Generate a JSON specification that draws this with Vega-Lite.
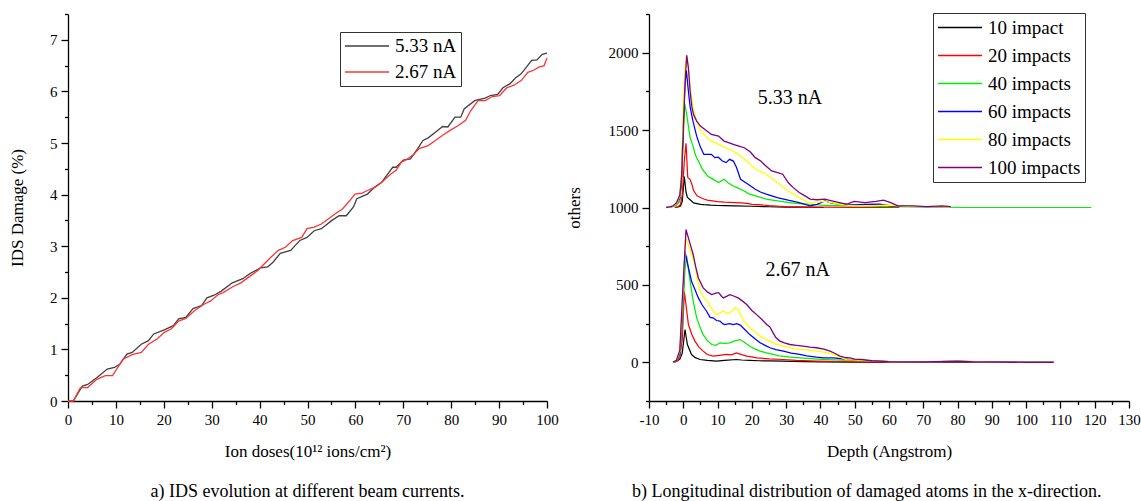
{
  "$schema": "https://vega.github.io/schema/vega-lite/v6.json",
  "background": "white",
  "padding": {"left": 8, "top": 7, "right": 0, "bottom": 0},
  "autosize": {"type": "pad"},
  "spacing": 6,
  "resolve": {"scale": {"color": "independent", "x": "independent", "y": "independent"}, "legend": {"color": "independent"}},
  "config": {
    "font": "Liberation Serif",
    "view": {"stroke": null},
    "axis": {
      "grid": false,
      "labelFont": "Liberation Serif",
      "labelFontSize": 15,
      "labelColor": "black",
      "titleFont": "Liberation Serif",
      "titleFontSize": 17,
      "titleFontWeight": "normal",
      "titleColor": "black",
      "domainColor": "black",
      "domainWidth": 1.3,
      "tickColor": "black",
      "tickWidth": 1.3,
      "labelPadding": 4,
      "labelOverlap": false,
      "labelFlush": false
    },
    "axisX": {"titlePadding": 16},
    "axisY": {"titlePadding": 23},
    "legend": {
      "labelFont": "Liberation Serif",
      "labelFontSize": 19,
      "labelColor": "black",
      "symbolType": "stroke",
      "symbolSize": 1936,
      "symbolStrokeWidth": 1.5,
      "strokeColor": "#333333",
      "padding": 4,
      "labelOffset": 5,
      "labelLimit": 300
    },
    "title": {"font": "Liberation Serif", "fontSize": 18, "fontWeight": "normal", "color": "black"}
  },
  "datasets": {
    "ids": [
      {"dose": 0, "damage": 0, "current": "5.33 nA"},
      {"dose": 1.1, "damage": 0, "current": "5.33 nA"},
      {"dose": 3, "damage": 0.29, "current": "5.33 nA"},
      {"dose": 4.1, "damage": 0.32, "current": "5.33 nA"},
      {"dose": 6, "damage": 0.45, "current": "5.33 nA"},
      {"dose": 8.2, "damage": 0.62, "current": "5.33 nA"},
      {"dose": 9.7, "damage": 0.65, "current": "5.33 nA"},
      {"dose": 10.8, "damage": 0.71, "current": "5.33 nA"},
      {"dose": 12.3, "damage": 0.91, "current": "5.33 nA"},
      {"dose": 13.4, "damage": 0.94, "current": "5.33 nA"},
      {"dose": 15.3, "damage": 1.10, "current": "5.33 nA"},
      {"dose": 16.8, "damage": 1.17, "current": "5.33 nA"},
      {"dose": 17.9, "damage": 1.30, "current": "5.33 nA"},
      {"dose": 20.1, "damage": 1.38, "current": "5.33 nA"},
      {"dose": 22, "damage": 1.46, "current": "5.33 nA"},
      {"dose": 23.1, "damage": 1.59, "current": "5.33 nA"},
      {"dose": 24.6, "damage": 1.62, "current": "5.33 nA"},
      {"dose": 26.1, "damage": 1.79, "current": "5.33 nA"},
      {"dose": 27.9, "damage": 1.85, "current": "5.33 nA"},
      {"dose": 29, "damage": 2.0, "current": "5.33 nA"},
      {"dose": 30.5, "damage": 2.05, "current": "5.33 nA"},
      {"dose": 32, "damage": 2.13, "current": "5.33 nA"},
      {"dose": 34.3, "damage": 2.29, "current": "5.33 nA"},
      {"dose": 36.5, "damage": 2.37, "current": "5.33 nA"},
      {"dose": 38, "damage": 2.47, "current": "5.33 nA"},
      {"dose": 40.2, "damage": 2.58, "current": "5.33 nA"},
      {"dose": 41.7, "damage": 2.6, "current": "5.33 nA"},
      {"dose": 42.8, "damage": 2.69, "current": "5.33 nA"},
      {"dose": 44.3, "damage": 2.86, "current": "5.33 nA"},
      {"dose": 45.4, "damage": 2.89, "current": "5.33 nA"},
      {"dose": 46.5, "damage": 2.92, "current": "5.33 nA"},
      {"dose": 47.5, "damage": 3.02, "current": "5.33 nA"},
      {"dose": 48.4, "damage": 3.11, "current": "5.33 nA"},
      {"dose": 49.9, "damage": 3.17, "current": "5.33 nA"},
      {"dose": 51.4, "damage": 3.30, "current": "5.33 nA"},
      {"dose": 52.9, "damage": 3.34, "current": "5.33 nA"},
      {"dose": 55.1, "damage": 3.50, "current": "5.33 nA"},
      {"dose": 56.6, "damage": 3.59, "current": "5.33 nA"},
      {"dose": 58.1, "damage": 3.59, "current": "5.33 nA"},
      {"dose": 59.6, "damage": 3.76, "current": "5.33 nA"},
      {"dose": 60.3, "damage": 3.92, "current": "5.33 nA"},
      {"dose": 62.5, "damage": 4.01, "current": "5.33 nA"},
      {"dose": 64, "damage": 4.14, "current": "5.33 nA"},
      {"dose": 65.5, "damage": 4.24, "current": "5.33 nA"},
      {"dose": 67, "damage": 4.43, "current": "5.33 nA"},
      {"dose": 67.8, "damage": 4.53, "current": "5.33 nA"},
      {"dose": 68.5, "damage": 4.53, "current": "5.33 nA"},
      {"dose": 70, "damage": 4.67, "current": "5.33 nA"},
      {"dose": 71.5, "damage": 4.69, "current": "5.33 nA"},
      {"dose": 73, "damage": 4.89, "current": "5.33 nA"},
      {"dose": 74.1, "damage": 5.05, "current": "5.33 nA"},
      {"dose": 75.2, "damage": 5.10, "current": "5.33 nA"},
      {"dose": 76.7, "damage": 5.21, "current": "5.33 nA"},
      {"dose": 78.2, "damage": 5.32, "current": "5.33 nA"},
      {"dose": 79.3, "damage": 5.31, "current": "5.33 nA"},
      {"dose": 80.8, "damage": 5.50, "current": "5.33 nA"},
      {"dose": 82, "damage": 5.50, "current": "5.33 nA"},
      {"dose": 82.7, "damage": 5.66, "current": "5.33 nA"},
      {"dose": 84.9, "damage": 5.82, "current": "5.33 nA"},
      {"dose": 87.1, "damage": 5.87, "current": "5.33 nA"},
      {"dose": 88.2, "damage": 5.92, "current": "5.33 nA"},
      {"dose": 89.7, "damage": 5.94, "current": "5.33 nA"},
      {"dose": 90.8, "damage": 6.07, "current": "5.33 nA"},
      {"dose": 92.3, "damage": 6.15, "current": "5.33 nA"},
      {"dose": 93.4, "damage": 6.26, "current": "5.33 nA"},
      {"dose": 94.6, "damage": 6.34, "current": "5.33 nA"},
      {"dose": 95.7, "damage": 6.47, "current": "5.33 nA"},
      {"dose": 96.8, "damage": 6.60, "current": "5.33 nA"},
      {"dose": 97.9, "damage": 6.61, "current": "5.33 nA"},
      {"dose": 99, "damage": 6.72, "current": "5.33 nA"},
      {"dose": 100, "damage": 6.74, "current": "5.33 nA"},
      {"dose": 0, "damage": 0, "current": "2.67 nA"},
      {"dose": 1.1, "damage": 0, "current": "2.67 nA"},
      {"dose": 2.6, "damage": 0.26, "current": "2.67 nA"},
      {"dose": 4.1, "damage": 0.26, "current": "2.67 nA"},
      {"dose": 6, "damage": 0.42, "current": "2.67 nA"},
      {"dose": 7.8, "damage": 0.49, "current": "2.67 nA"},
      {"dose": 9.3, "damage": 0.49, "current": "2.67 nA"},
      {"dose": 11.5, "damage": 0.81, "current": "2.67 nA"},
      {"dose": 13.4, "damage": 0.90, "current": "2.67 nA"},
      {"dose": 15.3, "damage": 0.94, "current": "2.67 nA"},
      {"dose": 16.8, "damage": 1.10, "current": "2.67 nA"},
      {"dose": 18.6, "damage": 1.20, "current": "2.67 nA"},
      {"dose": 20.1, "damage": 1.33, "current": "2.67 nA"},
      {"dose": 21.6, "damage": 1.40, "current": "2.67 nA"},
      {"dose": 23.1, "damage": 1.55, "current": "2.67 nA"},
      {"dose": 24.6, "damage": 1.60, "current": "2.67 nA"},
      {"dose": 26.4, "damage": 1.75, "current": "2.67 nA"},
      {"dose": 28.3, "damage": 1.87, "current": "2.67 nA"},
      {"dose": 29.8, "damage": 1.94, "current": "2.67 nA"},
      {"dose": 31.3, "damage": 2.06, "current": "2.67 nA"},
      {"dose": 32.4, "damage": 2.10, "current": "2.67 nA"},
      {"dose": 34.3, "damage": 2.21, "current": "2.67 nA"},
      {"dose": 36.1, "damage": 2.29, "current": "2.67 nA"},
      {"dose": 38, "damage": 2.42, "current": "2.67 nA"},
      {"dose": 39.5, "damage": 2.52, "current": "2.67 nA"},
      {"dose": 41, "damage": 2.66, "current": "2.67 nA"},
      {"dose": 42.4, "damage": 2.79, "current": "2.67 nA"},
      {"dose": 43.9, "damage": 2.92, "current": "2.67 nA"},
      {"dose": 45.4, "damage": 2.98, "current": "2.67 nA"},
      {"dose": 46.9, "damage": 3.11, "current": "2.67 nA"},
      {"dose": 48.8, "damage": 3.17, "current": "2.67 nA"},
      {"dose": 49.9, "damage": 3.34, "current": "2.67 nA"},
      {"dose": 51.4, "damage": 3.37, "current": "2.67 nA"},
      {"dose": 52.9, "damage": 3.43, "current": "2.67 nA"},
      {"dose": 54.4, "damage": 3.53, "current": "2.67 nA"},
      {"dose": 55.8, "damage": 3.63, "current": "2.67 nA"},
      {"dose": 57.3, "damage": 3.72, "current": "2.67 nA"},
      {"dose": 58.8, "damage": 3.88, "current": "2.67 nA"},
      {"dose": 59.9, "damage": 4.01, "current": "2.67 nA"},
      {"dose": 61.4, "damage": 4.03, "current": "2.67 nA"},
      {"dose": 62.5, "damage": 4.08, "current": "2.67 nA"},
      {"dose": 64, "damage": 4.14, "current": "2.67 nA"},
      {"dose": 65.5, "damage": 4.24, "current": "2.67 nA"},
      {"dose": 67.4, "damage": 4.40, "current": "2.67 nA"},
      {"dose": 68.5, "damage": 4.47, "current": "2.67 nA"},
      {"dose": 69.6, "damage": 4.63, "current": "2.67 nA"},
      {"dose": 70.7, "damage": 4.68, "current": "2.67 nA"},
      {"dose": 72.2, "damage": 4.78, "current": "2.67 nA"},
      {"dose": 73.3, "damage": 4.89, "current": "2.67 nA"},
      {"dose": 75.2, "damage": 4.95, "current": "2.67 nA"},
      {"dose": 76.7, "damage": 5.05, "current": "2.67 nA"},
      {"dose": 78.2, "damage": 5.15, "current": "2.67 nA"},
      {"dose": 79.7, "damage": 5.24, "current": "2.67 nA"},
      {"dose": 81.5, "damage": 5.34, "current": "2.67 nA"},
      {"dose": 83, "damage": 5.44, "current": "2.67 nA"},
      {"dose": 84.1, "damage": 5.63, "current": "2.67 nA"},
      {"dose": 85.6, "damage": 5.82, "current": "2.67 nA"},
      {"dose": 87.1, "damage": 5.82, "current": "2.67 nA"},
      {"dose": 88.6, "damage": 5.90, "current": "2.67 nA"},
      {"dose": 90.1, "damage": 5.92, "current": "2.67 nA"},
      {"dose": 91.6, "damage": 6.07, "current": "2.67 nA"},
      {"dose": 93.1, "damage": 6.12, "current": "2.67 nA"},
      {"dose": 94.6, "damage": 6.21, "current": "2.67 nA"},
      {"dose": 96, "damage": 6.37, "current": "2.67 nA"},
      {"dose": 97.2, "damage": 6.41, "current": "2.67 nA"},
      {"dose": 98.3, "damage": 6.47, "current": "2.67 nA"},
      {"dose": 99.4, "damage": 6.50, "current": "2.67 nA"},
      {"dose": 100, "damage": 6.65, "current": "2.67 nA"}
    ],
    "depth": [
      {"depth": -2.4, "count": 1000, "impacts": "10 impact", "current": "5.33"},
      {"depth": -1.5, "count": 1003, "impacts": "10 impact", "current": "5.33"},
      {"depth": -0.8, "count": 1010, "impacts": "10 impact", "current": "5.33"},
      {"depth": -0.3, "count": 1040, "impacts": "10 impact", "current": "5.33"},
      {"depth": 0, "count": 1120, "impacts": "10 impact", "current": "5.33"},
      {"depth": 0.3, "count": 1200, "impacts": "10 impact", "current": "5.33"},
      {"depth": 0.8, "count": 1100, "impacts": "10 impact", "current": "5.33"},
      {"depth": 1.2, "count": 1065, "impacts": "10 impact", "current": "5.33"},
      {"depth": 2, "count": 1050, "impacts": "10 impact", "current": "5.33"},
      {"depth": 3, "count": 1030, "impacts": "10 impact", "current": "5.33"},
      {"depth": 4, "count": 1025, "impacts": "10 impact", "current": "5.33"},
      {"depth": 5, "count": 1020, "impacts": "10 impact", "current": "5.33"},
      {"depth": 6, "count": 1018, "impacts": "10 impact", "current": "5.33"},
      {"depth": 8, "count": 1015, "impacts": "10 impact", "current": "5.33"},
      {"depth": 10, "count": 1013, "impacts": "10 impact", "current": "5.33"},
      {"depth": 12, "count": 1012, "impacts": "10 impact", "current": "5.33"},
      {"depth": 15, "count": 1010, "impacts": "10 impact", "current": "5.33"},
      {"depth": 20, "count": 1008, "impacts": "10 impact", "current": "5.33"},
      {"depth": 25, "count": 1005, "impacts": "10 impact", "current": "5.33"},
      {"depth": 30, "count": 1003, "impacts": "10 impact", "current": "5.33"},
      {"depth": 35, "count": 1002, "impacts": "10 impact", "current": "5.33"},
      {"depth": 41, "count": 1000, "impacts": "10 impact", "current": "5.33"},
      {"depth": -3, "count": 0, "impacts": "10 impact", "current": "2.67"},
      {"depth": -2, "count": 5, "impacts": "10 impact", "current": "2.67"},
      {"depth": -1, "count": 20, "impacts": "10 impact", "current": "2.67"},
      {"depth": -0.3, "count": 60, "impacts": "10 impact", "current": "2.67"},
      {"depth": 0.5, "count": 212, "impacts": "10 impact", "current": "2.67"},
      {"depth": 1.2, "count": 115, "impacts": "10 impact", "current": "2.67"},
      {"depth": 2.4, "count": 50, "impacts": "10 impact", "current": "2.67"},
      {"depth": 3.5, "count": 30, "impacts": "10 impact", "current": "2.67"},
      {"depth": 4.9, "count": 18, "impacts": "10 impact", "current": "2.67"},
      {"depth": 7, "count": 12, "impacts": "10 impact", "current": "2.67"},
      {"depth": 9.7, "count": 8, "impacts": "10 impact", "current": "2.67"},
      {"depth": 12, "count": 12, "impacts": "10 impact", "current": "2.67"},
      {"depth": 15.5, "count": 18, "impacts": "10 impact", "current": "2.67"},
      {"depth": 17, "count": 15, "impacts": "10 impact", "current": "2.67"},
      {"depth": 19.4, "count": 12, "impacts": "10 impact", "current": "2.67"},
      {"depth": 22, "count": 10, "impacts": "10 impact", "current": "2.67"},
      {"depth": 25, "count": 9, "impacts": "10 impact", "current": "2.67"},
      {"depth": 29.2, "count": 8, "impacts": "10 impact", "current": "2.67"},
      {"depth": 35, "count": 5, "impacts": "10 impact", "current": "2.67"},
      {"depth": 40, "count": 3, "impacts": "10 impact", "current": "2.67"},
      {"depth": 50, "count": 1, "impacts": "10 impact", "current": "2.67"},
      {"depth": 60, "count": 0, "impacts": "10 impact", "current": "2.67"},
      {"depth": 70, "count": 0, "impacts": "10 impact", "current": "2.67"},
      {"depth": 80, "count": 3, "impacts": "10 impact", "current": "2.67"},
      {"depth": 90, "count": 1, "impacts": "10 impact", "current": "2.67"},
      {"depth": 100, "count": 0, "impacts": "10 impact", "current": "2.67"},
      {"depth": 108, "count": 0, "impacts": "10 impact", "current": "2.67"},
      {"depth": -2.5, "count": 1000, "impacts": "20 impacts", "current": "5.33"},
      {"depth": -1.5, "count": 1005, "impacts": "20 impacts", "current": "5.33"},
      {"depth": -0.8, "count": 1020, "impacts": "20 impacts", "current": "5.33"},
      {"depth": -0.3, "count": 1080, "impacts": "20 impacts", "current": "5.33"},
      {"depth": 0.3, "count": 1300, "impacts": "20 impacts", "current": "5.33"},
      {"depth": 0.8, "count": 1415, "impacts": "20 impacts", "current": "5.33"},
      {"depth": 1.3, "count": 1195, "impacts": "20 impacts", "current": "5.33"},
      {"depth": 2, "count": 1180, "impacts": "20 impacts", "current": "5.33"},
      {"depth": 2.5, "count": 1150, "impacts": "20 impacts", "current": "5.33"},
      {"depth": 3, "count": 1110, "impacts": "20 impacts", "current": "5.33"},
      {"depth": 4, "count": 1075, "impacts": "20 impacts", "current": "5.33"},
      {"depth": 5, "count": 1065, "impacts": "20 impacts", "current": "5.33"},
      {"depth": 6, "count": 1055, "impacts": "20 impacts", "current": "5.33"},
      {"depth": 7, "count": 1048, "impacts": "20 impacts", "current": "5.33"},
      {"depth": 8, "count": 1045, "impacts": "20 impacts", "current": "5.33"},
      {"depth": 10, "count": 1038, "impacts": "20 impacts", "current": "5.33"},
      {"depth": 12, "count": 1035, "impacts": "20 impacts", "current": "5.33"},
      {"depth": 15, "count": 1032, "impacts": "20 impacts", "current": "5.33"},
      {"depth": 17, "count": 1030, "impacts": "20 impacts", "current": "5.33"},
      {"depth": 19, "count": 1025, "impacts": "20 impacts", "current": "5.33"},
      {"depth": 20, "count": 1020, "impacts": "20 impacts", "current": "5.33"},
      {"depth": 22, "count": 1018, "impacts": "20 impacts", "current": "5.33"},
      {"depth": 25, "count": 1012, "impacts": "20 impacts", "current": "5.33"},
      {"depth": 28, "count": 1008, "impacts": "20 impacts", "current": "5.33"},
      {"depth": 30, "count": 1005, "impacts": "20 impacts", "current": "5.33"},
      {"depth": 35, "count": 1003, "impacts": "20 impacts", "current": "5.33"},
      {"depth": 40, "count": 1002, "impacts": "20 impacts", "current": "5.33"},
      {"depth": 50, "count": 1001, "impacts": "20 impacts", "current": "5.33"},
      {"depth": 63, "count": 1000, "impacts": "20 impacts", "current": "5.33"},
      {"depth": -3, "count": 0, "impacts": "20 impacts", "current": "2.67"},
      {"depth": -2, "count": 5, "impacts": "20 impacts", "current": "2.67"},
      {"depth": -1, "count": 30, "impacts": "20 impacts", "current": "2.67"},
      {"depth": -0.3, "count": 150, "impacts": "20 impacts", "current": "2.67"},
      {"depth": 0.3, "count": 459, "impacts": "20 impacts", "current": "2.67"},
      {"depth": 1.5, "count": 244, "impacts": "20 impacts", "current": "2.67"},
      {"depth": 2.5, "count": 180, "impacts": "20 impacts", "current": "2.67"},
      {"depth": 3.4, "count": 137, "impacts": "20 impacts", "current": "2.67"},
      {"depth": 4.5, "count": 100, "impacts": "20 impacts", "current": "2.67"},
      {"depth": 5.8, "count": 72, "impacts": "20 impacts", "current": "2.67"},
      {"depth": 7, "count": 50, "impacts": "20 impacts", "current": "2.67"},
      {"depth": 8.7, "count": 40, "impacts": "20 impacts", "current": "2.67"},
      {"depth": 10.5, "count": 45, "impacts": "20 impacts", "current": "2.67"},
      {"depth": 12.6, "count": 51, "impacts": "20 impacts", "current": "2.67"},
      {"depth": 14, "count": 48, "impacts": "20 impacts", "current": "2.67"},
      {"depth": 15.5, "count": 61, "impacts": "20 impacts", "current": "2.67"},
      {"depth": 17, "count": 50, "impacts": "20 impacts", "current": "2.67"},
      {"depth": 18.5, "count": 40, "impacts": "20 impacts", "current": "2.67"},
      {"depth": 20, "count": 35, "impacts": "20 impacts", "current": "2.67"},
      {"depth": 21.4, "count": 29, "impacts": "20 impacts", "current": "2.67"},
      {"depth": 25, "count": 22, "impacts": "20 impacts", "current": "2.67"},
      {"depth": 29.2, "count": 18, "impacts": "20 impacts", "current": "2.67"},
      {"depth": 33, "count": 12, "impacts": "20 impacts", "current": "2.67"},
      {"depth": 38.9, "count": 8, "impacts": "20 impacts", "current": "2.67"},
      {"depth": 45, "count": 5, "impacts": "20 impacts", "current": "2.67"},
      {"depth": 50, "count": 3, "impacts": "20 impacts", "current": "2.67"},
      {"depth": 60, "count": 1, "impacts": "20 impacts", "current": "2.67"},
      {"depth": 70, "count": 0, "impacts": "20 impacts", "current": "2.67"},
      {"depth": 80, "count": 5, "impacts": "20 impacts", "current": "2.67"},
      {"depth": 85, "count": 2, "impacts": "20 impacts", "current": "2.67"},
      {"depth": 90, "count": 0, "impacts": "20 impacts", "current": "2.67"},
      {"depth": 100, "count": 0, "impacts": "20 impacts", "current": "2.67"},
      {"depth": 108, "count": 0, "impacts": "20 impacts", "current": "2.67"},
      {"depth": -4, "count": 1000, "impacts": "40 impacts", "current": "5.33"},
      {"depth": -3, "count": 1005, "impacts": "40 impacts", "current": "5.33"},
      {"depth": -2, "count": 1015, "impacts": "40 impacts", "current": "5.33"},
      {"depth": -1, "count": 1040, "impacts": "40 impacts", "current": "5.33"},
      {"depth": -0.5, "count": 1150, "impacts": "40 impacts", "current": "5.33"},
      {"depth": 0, "count": 1450, "impacts": "40 impacts", "current": "5.33"},
      {"depth": 0.4, "count": 1675, "impacts": "40 impacts", "current": "5.33"},
      {"depth": 1, "count": 1600, "impacts": "40 impacts", "current": "5.33"},
      {"depth": 2, "count": 1450, "impacts": "40 impacts", "current": "5.33"},
      {"depth": 2.8, "count": 1400, "impacts": "40 impacts", "current": "5.33"},
      {"depth": 3.5, "count": 1340, "impacts": "40 impacts", "current": "5.33"},
      {"depth": 4.4, "count": 1300, "impacts": "40 impacts", "current": "5.33"},
      {"depth": 5.5, "count": 1250, "impacts": "40 impacts", "current": "5.33"},
      {"depth": 7.1, "count": 1204, "impacts": "40 impacts", "current": "5.33"},
      {"depth": 8.5, "count": 1185, "impacts": "40 impacts", "current": "5.33"},
      {"depth": 10.3, "count": 1161, "impacts": "40 impacts", "current": "5.33"},
      {"depth": 11.9, "count": 1182, "impacts": "40 impacts", "current": "5.33"},
      {"depth": 13, "count": 1160, "impacts": "40 impacts", "current": "5.33"},
      {"depth": 14.6, "count": 1139, "impacts": "40 impacts", "current": "5.33"},
      {"depth": 16, "count": 1125, "impacts": "40 impacts", "current": "5.33"},
      {"depth": 17.8, "count": 1107, "impacts": "40 impacts", "current": "5.33"},
      {"depth": 19, "count": 1090, "impacts": "40 impacts", "current": "5.33"},
      {"depth": 21, "count": 1075, "impacts": "40 impacts", "current": "5.33"},
      {"depth": 24.2, "count": 1054, "impacts": "40 impacts", "current": "5.33"},
      {"depth": 26, "count": 1048, "impacts": "40 impacts", "current": "5.33"},
      {"depth": 28.5, "count": 1039, "impacts": "40 impacts", "current": "5.33"},
      {"depth": 30, "count": 1035, "impacts": "40 impacts", "current": "5.33"},
      {"depth": 32.7, "count": 1026, "impacts": "40 impacts", "current": "5.33"},
      {"depth": 35, "count": 1024, "impacts": "40 impacts", "current": "5.33"},
      {"depth": 37, "count": 1021, "impacts": "40 impacts", "current": "5.33"},
      {"depth": 41.3, "count": 1013, "impacts": "40 impacts", "current": "5.33"},
      {"depth": 45, "count": 1012, "impacts": "40 impacts", "current": "5.33"},
      {"depth": 47.6, "count": 1011, "impacts": "40 impacts", "current": "5.33"},
      {"depth": 54, "count": 1009, "impacts": "40 impacts", "current": "5.33"},
      {"depth": 60.5, "count": 1006, "impacts": "40 impacts", "current": "5.33"},
      {"depth": 71, "count": 1004, "impacts": "40 impacts", "current": "5.33"},
      {"depth": 81.9, "count": 1000, "impacts": "40 impacts", "current": "5.33"},
      {"depth": 90, "count": 1000, "impacts": "40 impacts", "current": "5.33"},
      {"depth": 100, "count": 1000, "impacts": "40 impacts", "current": "5.33"},
      {"depth": 110, "count": 1000, "impacts": "40 impacts", "current": "5.33"},
      {"depth": 119, "count": 1000, "impacts": "40 impacts", "current": "5.33"},
      {"depth": -3, "count": 0, "impacts": "40 impacts", "current": "2.67"},
      {"depth": -2, "count": 10, "impacts": "40 impacts", "current": "2.67"},
      {"depth": -1, "count": 50, "impacts": "40 impacts", "current": "2.67"},
      {"depth": -0.3, "count": 250, "impacts": "40 impacts", "current": "2.67"},
      {"depth": 0.5, "count": 600, "impacts": "40 impacts", "current": "2.67"},
      {"depth": 1, "count": 685, "impacts": "40 impacts", "current": "2.67"},
      {"depth": 1.8, "count": 550, "impacts": "40 impacts", "current": "2.67"},
      {"depth": 2.9, "count": 395, "impacts": "40 impacts", "current": "2.67"},
      {"depth": 3.9, "count": 287, "impacts": "40 impacts", "current": "2.67"},
      {"depth": 5, "count": 220, "impacts": "40 impacts", "current": "2.67"},
      {"depth": 5.8, "count": 179, "impacts": "40 impacts", "current": "2.67"},
      {"depth": 7, "count": 140, "impacts": "40 impacts", "current": "2.67"},
      {"depth": 8.3, "count": 115, "impacts": "40 impacts", "current": "2.67"},
      {"depth": 9.5, "count": 110, "impacts": "40 impacts", "current": "2.67"},
      {"depth": 10.7, "count": 126, "impacts": "40 impacts", "current": "2.67"},
      {"depth": 12, "count": 122, "impacts": "40 impacts", "current": "2.67"},
      {"depth": 13.6, "count": 126, "impacts": "40 impacts", "current": "2.67"},
      {"depth": 15, "count": 138, "impacts": "40 impacts", "current": "2.67"},
      {"depth": 16.5, "count": 147, "impacts": "40 impacts", "current": "2.67"},
      {"depth": 17.5, "count": 135, "impacts": "40 impacts", "current": "2.67"},
      {"depth": 19.4, "count": 104, "impacts": "40 impacts", "current": "2.67"},
      {"depth": 21, "count": 85, "impacts": "40 impacts", "current": "2.67"},
      {"depth": 22.4, "count": 72, "impacts": "40 impacts", "current": "2.67"},
      {"depth": 24, "count": 62, "impacts": "40 impacts", "current": "2.67"},
      {"depth": 26.2, "count": 51, "impacts": "40 impacts", "current": "2.67"},
      {"depth": 28, "count": 42, "impacts": "40 impacts", "current": "2.67"},
      {"depth": 31.1, "count": 33, "impacts": "40 impacts", "current": "2.67"},
      {"depth": 35.9, "count": 25, "impacts": "40 impacts", "current": "2.67"},
      {"depth": 41.8, "count": 18, "impacts": "40 impacts", "current": "2.67"},
      {"depth": 48.6, "count": 12, "impacts": "40 impacts", "current": "2.67"},
      {"depth": 55, "count": 8, "impacts": "40 impacts", "current": "2.67"},
      {"depth": 60, "count": 5, "impacts": "40 impacts", "current": "2.67"},
      {"depth": 70, "count": 3, "impacts": "40 impacts", "current": "2.67"},
      {"depth": 80, "count": 6, "impacts": "40 impacts", "current": "2.67"},
      {"depth": 90, "count": 2, "impacts": "40 impacts", "current": "2.67"},
      {"depth": 100, "count": 0, "impacts": "40 impacts", "current": "2.67"},
      {"depth": 108, "count": 0, "impacts": "40 impacts", "current": "2.67"},
      {"depth": -5, "count": 1000, "impacts": "60 impacts", "current": "5.33"},
      {"depth": -4, "count": 1003, "impacts": "60 impacts", "current": "5.33"},
      {"depth": -3, "count": 1008, "impacts": "60 impacts", "current": "5.33"},
      {"depth": -2, "count": 1020, "impacts": "60 impacts", "current": "5.33"},
      {"depth": -1, "count": 1060, "impacts": "60 impacts", "current": "5.33"},
      {"depth": -0.5, "count": 1200, "impacts": "60 impacts", "current": "5.33"},
      {"depth": 0, "count": 1550, "impacts": "60 impacts", "current": "5.33"},
      {"depth": 0.5, "count": 1800, "impacts": "60 impacts", "current": "5.33"},
      {"depth": 0.9, "count": 1885, "impacts": "60 impacts", "current": "5.33"},
      {"depth": 1.5, "count": 1750, "impacts": "60 impacts", "current": "5.33"},
      {"depth": 2, "count": 1650, "impacts": "60 impacts", "current": "5.33"},
      {"depth": 2.8, "count": 1560, "impacts": "60 impacts", "current": "5.33"},
      {"depth": 3.9, "count": 1461, "impacts": "60 impacts", "current": "5.33"},
      {"depth": 5, "count": 1390, "impacts": "60 impacts", "current": "5.33"},
      {"depth": 6, "count": 1343, "impacts": "60 impacts", "current": "5.33"},
      {"depth": 8.2, "count": 1343, "impacts": "60 impacts", "current": "5.33"},
      {"depth": 9.2, "count": 1322, "impacts": "60 impacts", "current": "5.33"},
      {"depth": 10.2, "count": 1325, "impacts": "60 impacts", "current": "5.33"},
      {"depth": 11.4, "count": 1300, "impacts": "60 impacts", "current": "5.33"},
      {"depth": 12.5, "count": 1290, "impacts": "60 impacts", "current": "5.33"},
      {"depth": 13.5, "count": 1311, "impacts": "60 impacts", "current": "5.33"},
      {"depth": 14.6, "count": 1300, "impacts": "60 impacts", "current": "5.33"},
      {"depth": 15.5, "count": 1260, "impacts": "60 impacts", "current": "5.33"},
      {"depth": 16.7, "count": 1182, "impacts": "60 impacts", "current": "5.33"},
      {"depth": 18.9, "count": 1150, "impacts": "60 impacts", "current": "5.33"},
      {"depth": 21, "count": 1118, "impacts": "60 impacts", "current": "5.33"},
      {"depth": 22.5, "count": 1100, "impacts": "60 impacts", "current": "5.33"},
      {"depth": 24.2, "count": 1086, "impacts": "60 impacts", "current": "5.33"},
      {"depth": 27.4, "count": 1064, "impacts": "60 impacts", "current": "5.33"},
      {"depth": 30.6, "count": 1047, "impacts": "60 impacts", "current": "5.33"},
      {"depth": 33.8, "count": 1032, "impacts": "60 impacts", "current": "5.33"},
      {"depth": 37, "count": 1011, "impacts": "60 impacts", "current": "5.33"},
      {"depth": 39, "count": 1020, "impacts": "60 impacts", "current": "5.33"},
      {"depth": 41.3, "count": 1043, "impacts": "60 impacts", "current": "5.33"},
      {"depth": 43, "count": 1030, "impacts": "60 impacts", "current": "5.33"},
      {"depth": 45.5, "count": 1021, "impacts": "60 impacts", "current": "5.33"},
      {"depth": 49.8, "count": 1017, "impacts": "60 impacts", "current": "5.33"},
      {"depth": 53, "count": 1020, "impacts": "60 impacts", "current": "5.33"},
      {"depth": 57.3, "count": 1021, "impacts": "60 impacts", "current": "5.33"},
      {"depth": 60.5, "count": 1011, "impacts": "60 impacts", "current": "5.33"},
      {"depth": 65, "count": 1008, "impacts": "60 impacts", "current": "5.33"},
      {"depth": 70, "count": 1005, "impacts": "60 impacts", "current": "5.33"},
      {"depth": 78, "count": 1002, "impacts": "60 impacts", "current": "5.33"},
      {"depth": -3, "count": 0, "impacts": "60 impacts", "current": "2.67"},
      {"depth": -2, "count": 10, "impacts": "60 impacts", "current": "2.67"},
      {"depth": -1, "count": 60, "impacts": "60 impacts", "current": "2.67"},
      {"depth": -0.3, "count": 300, "impacts": "60 impacts", "current": "2.67"},
      {"depth": 0.5, "count": 717, "impacts": "60 impacts", "current": "2.67"},
      {"depth": 1.2, "count": 640, "impacts": "60 impacts", "current": "2.67"},
      {"depth": 2.4, "count": 524, "impacts": "60 impacts", "current": "2.67"},
      {"depth": 3.4, "count": 470, "impacts": "60 impacts", "current": "2.67"},
      {"depth": 4.4, "count": 416, "impacts": "60 impacts", "current": "2.67"},
      {"depth": 5.5, "count": 370, "impacts": "60 impacts", "current": "2.67"},
      {"depth": 6.8, "count": 330, "impacts": "60 impacts", "current": "2.67"},
      {"depth": 7.8, "count": 290, "impacts": "60 impacts", "current": "2.67"},
      {"depth": 8.7, "count": 287, "impacts": "60 impacts", "current": "2.67"},
      {"depth": 9.7, "count": 270, "impacts": "60 impacts", "current": "2.67"},
      {"depth": 10.7, "count": 266, "impacts": "60 impacts", "current": "2.67"},
      {"depth": 11.5, "count": 250, "impacts": "60 impacts", "current": "2.67"},
      {"depth": 12.1, "count": 244, "impacts": "60 impacts", "current": "2.67"},
      {"depth": 13.5, "count": 250, "impacts": "60 impacts", "current": "2.67"},
      {"depth": 14.6, "count": 244, "impacts": "60 impacts", "current": "2.67"},
      {"depth": 15.6, "count": 250, "impacts": "60 impacts", "current": "2.67"},
      {"depth": 16.6, "count": 240, "impacts": "60 impacts", "current": "2.67"},
      {"depth": 18, "count": 210, "impacts": "60 impacts", "current": "2.67"},
      {"depth": 19.4, "count": 179, "impacts": "60 impacts", "current": "2.67"},
      {"depth": 21, "count": 150, "impacts": "60 impacts", "current": "2.67"},
      {"depth": 22.4, "count": 126, "impacts": "60 impacts", "current": "2.67"},
      {"depth": 24, "count": 108, "impacts": "60 impacts", "current": "2.67"},
      {"depth": 25.3, "count": 94, "impacts": "60 impacts", "current": "2.67"},
      {"depth": 27, "count": 82, "impacts": "60 impacts", "current": "2.67"},
      {"depth": 29.2, "count": 72, "impacts": "60 impacts", "current": "2.67"},
      {"depth": 31.5, "count": 60, "impacts": "60 impacts", "current": "2.67"},
      {"depth": 34, "count": 51, "impacts": "60 impacts", "current": "2.67"},
      {"depth": 36, "count": 42, "impacts": "60 impacts", "current": "2.67"},
      {"depth": 38.9, "count": 33, "impacts": "60 impacts", "current": "2.67"},
      {"depth": 41, "count": 28, "impacts": "60 impacts", "current": "2.67"},
      {"depth": 43.8, "count": 29, "impacts": "60 impacts", "current": "2.67"},
      {"depth": 46, "count": 24, "impacts": "60 impacts", "current": "2.67"},
      {"depth": 48.6, "count": 18, "impacts": "60 impacts", "current": "2.67"},
      {"depth": 52, "count": 12, "impacts": "60 impacts", "current": "2.67"},
      {"depth": 56, "count": 8, "impacts": "60 impacts", "current": "2.67"},
      {"depth": 60, "count": 5, "impacts": "60 impacts", "current": "2.67"},
      {"depth": 70, "count": 3, "impacts": "60 impacts", "current": "2.67"},
      {"depth": 80, "count": 6, "impacts": "60 impacts", "current": "2.67"},
      {"depth": 90, "count": 2, "impacts": "60 impacts", "current": "2.67"},
      {"depth": 100, "count": 0, "impacts": "60 impacts", "current": "2.67"},
      {"depth": 108, "count": 0, "impacts": "60 impacts", "current": "2.67"},
      {"depth": -5, "count": 1000, "impacts": "80 impacts", "current": "5.33"},
      {"depth": -4, "count": 1003, "impacts": "80 impacts", "current": "5.33"},
      {"depth": -3, "count": 1008, "impacts": "80 impacts", "current": "5.33"},
      {"depth": -2, "count": 1022, "impacts": "80 impacts", "current": "5.33"},
      {"depth": -1, "count": 1070, "impacts": "80 impacts", "current": "5.33"},
      {"depth": -0.5, "count": 1250, "impacts": "80 impacts", "current": "5.33"},
      {"depth": 0, "count": 1650, "impacts": "80 impacts", "current": "5.33"},
      {"depth": 0.5, "count": 1900, "impacts": "80 impacts", "current": "5.33"},
      {"depth": 1, "count": 1985, "impacts": "80 impacts", "current": "5.33"},
      {"depth": 1.5, "count": 1900, "impacts": "80 impacts", "current": "5.33"},
      {"depth": 2, "count": 1780, "impacts": "80 impacts", "current": "5.33"},
      {"depth": 2.8, "count": 1650, "impacts": "80 impacts", "current": "5.33"},
      {"depth": 3.9, "count": 1560, "impacts": "80 impacts", "current": "5.33"},
      {"depth": 5, "count": 1500, "impacts": "80 impacts", "current": "5.33"},
      {"depth": 6, "count": 1472, "impacts": "80 impacts", "current": "5.33"},
      {"depth": 8, "count": 1430, "impacts": "80 impacts", "current": "5.33"},
      {"depth": 10.3, "count": 1408, "impacts": "80 impacts", "current": "5.33"},
      {"depth": 12, "count": 1390, "impacts": "80 impacts", "current": "5.33"},
      {"depth": 14.6, "count": 1365, "impacts": "80 impacts", "current": "5.33"},
      {"depth": 16, "count": 1345, "impacts": "80 impacts", "current": "5.33"},
      {"depth": 17.8, "count": 1311, "impacts": "80 impacts", "current": "5.33"},
      {"depth": 19.5, "count": 1280, "impacts": "80 impacts", "current": "5.33"},
      {"depth": 21, "count": 1247, "impacts": "80 impacts", "current": "5.33"},
      {"depth": 24.2, "count": 1215, "impacts": "80 impacts", "current": "5.33"},
      {"depth": 27.4, "count": 1161, "impacts": "80 impacts", "current": "5.33"},
      {"depth": 30.6, "count": 1107, "impacts": "80 impacts", "current": "5.33"},
      {"depth": 33.8, "count": 1064, "impacts": "80 impacts", "current": "5.33"},
      {"depth": 37, "count": 1026, "impacts": "80 impacts", "current": "5.33"},
      {"depth": 39, "count": 1035, "impacts": "80 impacts", "current": "5.33"},
      {"depth": 41.3, "count": 1039, "impacts": "80 impacts", "current": "5.33"},
      {"depth": 45.5, "count": 1021, "impacts": "80 impacts", "current": "5.33"},
      {"depth": 49.8, "count": 1011, "impacts": "80 impacts", "current": "5.33"},
      {"depth": 55, "count": 1012, "impacts": "80 impacts", "current": "5.33"},
      {"depth": 60, "count": 1015, "impacts": "80 impacts", "current": "5.33"},
      {"depth": 65, "count": 1008, "impacts": "80 impacts", "current": "5.33"},
      {"depth": 70, "count": 1005, "impacts": "80 impacts", "current": "5.33"},
      {"depth": 78, "count": 1003, "impacts": "80 impacts", "current": "5.33"},
      {"depth": -3, "count": 0, "impacts": "80 impacts", "current": "2.67"},
      {"depth": -2, "count": 10, "impacts": "80 impacts", "current": "2.67"},
      {"depth": -1, "count": 70, "impacts": "80 impacts", "current": "2.67"},
      {"depth": -0.3, "count": 350, "impacts": "80 impacts", "current": "2.67"},
      {"depth": 0.7, "count": 800, "impacts": "80 impacts", "current": "2.67"},
      {"depth": 1.5, "count": 760, "impacts": "80 impacts", "current": "2.67"},
      {"depth": 2.5, "count": 690, "impacts": "80 impacts", "current": "2.67"},
      {"depth": 3.4, "count": 631, "impacts": "80 impacts", "current": "2.67"},
      {"depth": 4.2, "count": 530, "impacts": "80 impacts", "current": "2.67"},
      {"depth": 4.9, "count": 459, "impacts": "80 impacts", "current": "2.67"},
      {"depth": 6, "count": 420, "impacts": "80 impacts", "current": "2.67"},
      {"depth": 7.3, "count": 384, "impacts": "80 impacts", "current": "2.67"},
      {"depth": 8.5, "count": 340, "impacts": "80 impacts", "current": "2.67"},
      {"depth": 9.7, "count": 308, "impacts": "80 impacts", "current": "2.67"},
      {"depth": 10.7, "count": 320, "impacts": "80 impacts", "current": "2.67"},
      {"depth": 11.7, "count": 330, "impacts": "80 impacts", "current": "2.67"},
      {"depth": 13, "count": 315, "impacts": "80 impacts", "current": "2.67"},
      {"depth": 13.6, "count": 319, "impacts": "80 impacts", "current": "2.67"},
      {"depth": 15.1, "count": 352, "impacts": "80 impacts", "current": "2.67"},
      {"depth": 16, "count": 345, "impacts": "80 impacts", "current": "2.67"},
      {"depth": 16.6, "count": 308, "impacts": "80 impacts", "current": "2.67"},
      {"depth": 18, "count": 260, "impacts": "80 impacts", "current": "2.67"},
      {"depth": 19.4, "count": 223, "impacts": "80 impacts", "current": "2.67"},
      {"depth": 21, "count": 195, "impacts": "80 impacts", "current": "2.67"},
      {"depth": 22.4, "count": 169, "impacts": "80 impacts", "current": "2.67"},
      {"depth": 24, "count": 150, "impacts": "80 impacts", "current": "2.67"},
      {"depth": 25.3, "count": 137, "impacts": "80 impacts", "current": "2.67"},
      {"depth": 27, "count": 118, "impacts": "80 impacts", "current": "2.67"},
      {"depth": 29.2, "count": 104, "impacts": "80 impacts", "current": "2.67"},
      {"depth": 31.5, "count": 92, "impacts": "80 impacts", "current": "2.67"},
      {"depth": 34, "count": 83, "impacts": "80 impacts", "current": "2.67"},
      {"depth": 36, "count": 80, "impacts": "80 impacts", "current": "2.67"},
      {"depth": 38.9, "count": 72, "impacts": "80 impacts", "current": "2.67"},
      {"depth": 41, "count": 65, "impacts": "80 impacts", "current": "2.67"},
      {"depth": 43.8, "count": 51, "impacts": "80 impacts", "current": "2.67"},
      {"depth": 45.5, "count": 35, "impacts": "80 impacts", "current": "2.67"},
      {"depth": 47.6, "count": 18, "impacts": "80 impacts", "current": "2.67"},
      {"depth": 52, "count": 12, "impacts": "80 impacts", "current": "2.67"},
      {"depth": 56, "count": 8, "impacts": "80 impacts", "current": "2.67"},
      {"depth": 60, "count": 5, "impacts": "80 impacts", "current": "2.67"},
      {"depth": 70, "count": 3, "impacts": "80 impacts", "current": "2.67"},
      {"depth": 80, "count": 8, "impacts": "80 impacts", "current": "2.67"},
      {"depth": 90, "count": 2, "impacts": "80 impacts", "current": "2.67"},
      {"depth": 100, "count": 0, "impacts": "80 impacts", "current": "2.67"},
      {"depth": 108, "count": 0, "impacts": "80 impacts", "current": "2.67"},
      {"depth": -5, "count": 1000, "impacts": "100 impacts", "current": "5.33"},
      {"depth": -4, "count": 1004, "impacts": "100 impacts", "current": "5.33"},
      {"depth": -3, "count": 1010, "impacts": "100 impacts", "current": "5.33"},
      {"depth": -2, "count": 1030, "impacts": "100 impacts", "current": "5.33"},
      {"depth": -1, "count": 1080, "impacts": "100 impacts", "current": "5.33"},
      {"depth": -0.5, "count": 1200, "impacts": "100 impacts", "current": "5.33"},
      {"depth": 0, "count": 1500, "impacts": "100 impacts", "current": "5.33"},
      {"depth": 0.5, "count": 1800, "impacts": "100 impacts", "current": "5.33"},
      {"depth": 1, "count": 1983, "impacts": "100 impacts", "current": "5.33"},
      {"depth": 1.5, "count": 1900, "impacts": "100 impacts", "current": "5.33"},
      {"depth": 2, "count": 1750, "impacts": "100 impacts", "current": "5.33"},
      {"depth": 2.5, "count": 1650, "impacts": "100 impacts", "current": "5.33"},
      {"depth": 3, "count": 1600, "impacts": "100 impacts", "current": "5.33"},
      {"depth": 3.9, "count": 1558, "impacts": "100 impacts", "current": "5.33"},
      {"depth": 5, "count": 1526, "impacts": "100 impacts", "current": "5.33"},
      {"depth": 6.5, "count": 1500, "impacts": "100 impacts", "current": "5.33"},
      {"depth": 8.2, "count": 1472, "impacts": "100 impacts", "current": "5.33"},
      {"depth": 10.3, "count": 1461, "impacts": "100 impacts", "current": "5.33"},
      {"depth": 11.9, "count": 1429, "impacts": "100 impacts", "current": "5.33"},
      {"depth": 13, "count": 1420, "impacts": "100 impacts", "current": "5.33"},
      {"depth": 14.6, "count": 1408, "impacts": "100 impacts", "current": "5.33"},
      {"depth": 16, "count": 1398, "impacts": "100 impacts", "current": "5.33"},
      {"depth": 17.8, "count": 1386, "impacts": "100 impacts", "current": "5.33"},
      {"depth": 19.5, "count": 1360, "impacts": "100 impacts", "current": "5.33"},
      {"depth": 21, "count": 1322, "impacts": "100 impacts", "current": "5.33"},
      {"depth": 22.6, "count": 1300, "impacts": "100 impacts", "current": "5.33"},
      {"depth": 24, "count": 1270, "impacts": "100 impacts", "current": "5.33"},
      {"depth": 25.8, "count": 1236, "impacts": "100 impacts", "current": "5.33"},
      {"depth": 27.5, "count": 1225, "impacts": "100 impacts", "current": "5.33"},
      {"depth": 29, "count": 1215, "impacts": "100 impacts", "current": "5.33"},
      {"depth": 30.6, "count": 1161, "impacts": "100 impacts", "current": "5.33"},
      {"depth": 32, "count": 1130, "impacts": "100 impacts", "current": "5.33"},
      {"depth": 33.8, "count": 1097, "impacts": "100 impacts", "current": "5.33"},
      {"depth": 35.5, "count": 1075, "impacts": "100 impacts", "current": "5.33"},
      {"depth": 37, "count": 1054, "impacts": "100 impacts", "current": "5.33"},
      {"depth": 39, "count": 1050, "impacts": "100 impacts", "current": "5.33"},
      {"depth": 41.3, "count": 1054, "impacts": "100 impacts", "current": "5.33"},
      {"depth": 43, "count": 1045, "impacts": "100 impacts", "current": "5.33"},
      {"depth": 45.5, "count": 1032, "impacts": "100 impacts", "current": "5.33"},
      {"depth": 47.6, "count": 1021, "impacts": "100 impacts", "current": "5.33"},
      {"depth": 49.8, "count": 1039, "impacts": "100 impacts", "current": "5.33"},
      {"depth": 53, "count": 1032, "impacts": "100 impacts", "current": "5.33"},
      {"depth": 56.2, "count": 1039, "impacts": "100 impacts", "current": "5.33"},
      {"depth": 58.4, "count": 1047, "impacts": "100 impacts", "current": "5.33"},
      {"depth": 60.5, "count": 1032, "impacts": "100 impacts", "current": "5.33"},
      {"depth": 62.6, "count": 1011, "impacts": "100 impacts", "current": "5.33"},
      {"depth": 66.9, "count": 1011, "impacts": "100 impacts", "current": "5.33"},
      {"depth": 71, "count": 1006, "impacts": "100 impacts", "current": "5.33"},
      {"depth": 75.5, "count": 1011, "impacts": "100 impacts", "current": "5.33"},
      {"depth": 78, "count": 1005, "impacts": "100 impacts", "current": "5.33"},
      {"depth": -3, "count": 0, "impacts": "100 impacts", "current": "2.67"},
      {"depth": -2, "count": 12, "impacts": "100 impacts", "current": "2.67"},
      {"depth": -1, "count": 80, "impacts": "100 impacts", "current": "2.67"},
      {"depth": -0.3, "count": 400, "impacts": "100 impacts", "current": "2.67"},
      {"depth": 0.8, "count": 857, "impacts": "100 impacts", "current": "2.67"},
      {"depth": 1.8, "count": 780, "impacts": "100 impacts", "current": "2.67"},
      {"depth": 2.9, "count": 695, "impacts": "100 impacts", "current": "2.67"},
      {"depth": 3.6, "count": 620, "impacts": "100 impacts", "current": "2.67"},
      {"depth": 4.4, "count": 545, "impacts": "100 impacts", "current": "2.67"},
      {"depth": 5.8, "count": 481, "impacts": "100 impacts", "current": "2.67"},
      {"depth": 7, "count": 455, "impacts": "100 impacts", "current": "2.67"},
      {"depth": 8.3, "count": 437, "impacts": "100 impacts", "current": "2.67"},
      {"depth": 9.7, "count": 448, "impacts": "100 impacts", "current": "2.67"},
      {"depth": 10.4, "count": 448, "impacts": "100 impacts", "current": "2.67"},
      {"depth": 11.2, "count": 425, "impacts": "100 impacts", "current": "2.67"},
      {"depth": 11.7, "count": 416, "impacts": "100 impacts", "current": "2.67"},
      {"depth": 13.6, "count": 437, "impacts": "100 impacts", "current": "2.67"},
      {"depth": 14.5, "count": 430, "impacts": "100 impacts", "current": "2.67"},
      {"depth": 16, "count": 416, "impacts": "100 impacts", "current": "2.67"},
      {"depth": 17, "count": 400, "impacts": "100 impacts", "current": "2.67"},
      {"depth": 18.5, "count": 373, "impacts": "100 impacts", "current": "2.67"},
      {"depth": 20, "count": 335, "impacts": "100 impacts", "current": "2.67"},
      {"depth": 21.4, "count": 308, "impacts": "100 impacts", "current": "2.67"},
      {"depth": 23, "count": 275, "impacts": "100 impacts", "current": "2.67"},
      {"depth": 24.3, "count": 244, "impacts": "100 impacts", "current": "2.67"},
      {"depth": 25.2, "count": 230, "impacts": "100 impacts", "current": "2.67"},
      {"depth": 26.2, "count": 190, "impacts": "100 impacts", "current": "2.67"},
      {"depth": 27, "count": 160, "impacts": "100 impacts", "current": "2.67"},
      {"depth": 28.2, "count": 137, "impacts": "100 impacts", "current": "2.67"},
      {"depth": 29.5, "count": 125, "impacts": "100 impacts", "current": "2.67"},
      {"depth": 31.1, "count": 115, "impacts": "100 impacts", "current": "2.67"},
      {"depth": 33, "count": 110, "impacts": "100 impacts", "current": "2.67"},
      {"depth": 35, "count": 104, "impacts": "100 impacts", "current": "2.67"},
      {"depth": 37, "count": 98, "impacts": "100 impacts", "current": "2.67"},
      {"depth": 38.9, "count": 94, "impacts": "100 impacts", "current": "2.67"},
      {"depth": 41, "count": 85, "impacts": "100 impacts", "current": "2.67"},
      {"depth": 42.8, "count": 72, "impacts": "100 impacts", "current": "2.67"},
      {"depth": 44, "count": 60, "impacts": "100 impacts", "current": "2.67"},
      {"depth": 45.7, "count": 40, "impacts": "100 impacts", "current": "2.67"},
      {"depth": 47, "count": 32, "impacts": "100 impacts", "current": "2.67"},
      {"depth": 48.6, "count": 29, "impacts": "100 impacts", "current": "2.67"},
      {"depth": 50, "count": 20, "impacts": "100 impacts", "current": "2.67"},
      {"depth": 52, "count": 18, "impacts": "100 impacts", "current": "2.67"},
      {"depth": 55, "count": 10, "impacts": "100 impacts", "current": "2.67"},
      {"depth": 60, "count": 5, "impacts": "100 impacts", "current": "2.67"},
      {"depth": 65, "count": 3, "impacts": "100 impacts", "current": "2.67"},
      {"depth": 70, "count": 2, "impacts": "100 impacts", "current": "2.67"},
      {"depth": 80, "count": 8, "impacts": "100 impacts", "current": "2.67"},
      {"depth": 85, "count": 3, "impacts": "100 impacts", "current": "2.67"},
      {"depth": 90, "count": 2, "impacts": "100 impacts", "current": "2.67"},
      {"depth": 100, "count": 0, "impacts": "100 impacts", "current": "2.67"},
      {"depth": 108, "count": 0, "impacts": "100 impacts", "current": "2.67"}
    ],
    "notes": [
      {"depth": 31.1, "count": 1706, "label": "5.33 nA"},
      {"depth": 33.4, "count": 599, "label": "2.67 nA"}
    ]
  },
  "hconcat": [
    {
      "width": 479,
      "height": 387,
      "title": {"text": "a) IDS evolution at different beam currents.", "orient": "bottom", "anchor": "middle", "frame": "group", "offset": 24},
      "data": {"name": "ids"},
      "mark": {"type": "line", "strokeWidth": 1.3},
      "encoding": {
        "x": {
          "field": "dose", "type": "quantitative",
          "scale": {"domain": [0, 100], "nice": false, "zero": false},
          "axis": {
            "title": "Ion doses(10¹² ions/cm²)",
            "values": [0, 5, 10, 15, 20, 25, 30, 35, 40, 45, 50, 55, 60, 65, 70, 75, 80, 85, 90, 95, 100],
            "labelExpr": "datum.value % 10 == 0 ? toString(datum.value) : ''",
            "labelOverlap": false,
            "tickSize": {"condition": {"test": "datum.value % 10 != 0", "value": 3.5}, "value": 7}
          }
        },
        "y": {
          "field": "damage", "type": "quantitative",
          "scale": {"domain": [0, 7.5], "nice": false},
          "axis": {
            "title": "IDS Damage (%)",
            "values": [0, 0.5, 1, 1.5, 2, 2.5, 3, 3.5, 4, 4.5, 5, 5.5, 6, 6.5, 7, 7.5],
            "labelExpr": "datum.value % 1 == 0 ? toString(datum.value) : ''",
            "labelOverlap": false,
            "tickSize": {"condition": {"test": "datum.value % 1 != 0", "value": 3.5}, "value": 7}
          }
        },
        "color": {
          "field": "current", "type": "nominal",
          "scale": {"domain": ["5.33 nA", "2.67 nA"], "range": ["#404040", "#ff3333"]},
          "legend": {"title": null, "orient": "none", "legendX": 272, "legendY": 18, "clipHeight": 20, "rowPadding": 6}
        }
      }
    },
    {
      "width": 480,
      "height": 387,
      "title": {"text": "b) Longitudinal distribution of damaged atoms in the x-direction.", "orient": "bottom", "anchor": "start", "frame": "group", "dx": -17, "offset": 24},
      "encoding": {
        "x": {
          "field": "depth", "type": "quantitative",
          "scale": {"domain": [-10, 130], "nice": false, "zero": false},
          "axis": {
            "title": "Depth (Angstrom)",
            "values": [-10, -5, 0, 5, 10, 15, 20, 25, 30, 35, 40, 45, 50, 55, 60, 65, 70, 75, 80, 85, 90, 95, 100, 105, 110, 115, 120, 125, 130],
            "labelExpr": "datum.value % 10 == 0 ? toString(datum.value) : ''",
            "labelOverlap": false,
            "tickSize": {"condition": {"test": "datum.value % 10 != 0", "value": 3.5}, "value": 7}
          }
        },
        "y": {
          "field": "count", "type": "quantitative",
          "scale": {"domain": [-250, 2250], "nice": false, "zero": false},
          "axis": {
            "title": "others",
            "titlePadding": 25,
            "values": [-250, 0, 250, 500, 750, 1000, 1250, 1500, 1750, 2000, 2250],
            "labelExpr": "datum.value % 500 == 0 ? toString(datum.value) : ''",
            "labelOverlap": false,
            "tickSize": {"condition": {"test": "datum.value % 500 != 0", "value": 3.5}, "value": 7}
          }
        }
      },
      "layer": [
        {
          "data": {"name": "depth"},
          "mark": {"type": "line"},
          "encoding": {
            "color": {
              "field": "impacts", "type": "nominal",
              "scale": {
                "domain": ["10 impact", "20 impacts", "40 impacts", "60 impacts", "80 impacts", "100 impacts"],
                "range": ["#000000", "#ff0000", "#00ee00", "#0000ff", "#ffff00", "#800080"]
              },
              "legend": {"title": null, "orient": "none", "legendX": 284, "legendY": -1, "clipHeight": 21, "rowPadding": 7}
            },
            "strokeWidth": {
              "field": "impacts", "type": "nominal",
              "scale": {
                "domain": ["10 impact", "20 impacts", "40 impacts", "60 impacts", "80 impacts", "100 impacts"],
                "range": [1.2, 1.3, 1.3, 1.4, 1.3, 2]
              },
              "legend": null
            },
            "detail": {"field": "current", "type": "nominal"}
          }
        },
        {
          "data": {"name": "notes"},
          "mark": {"type": "text", "font": "Liberation Serif", "fontSize": 20, "color": "black"},
          "encoding": {
            "text": {"field": "label", "type": "nominal"}
          }
        }
      ]
    }
  ]
}
